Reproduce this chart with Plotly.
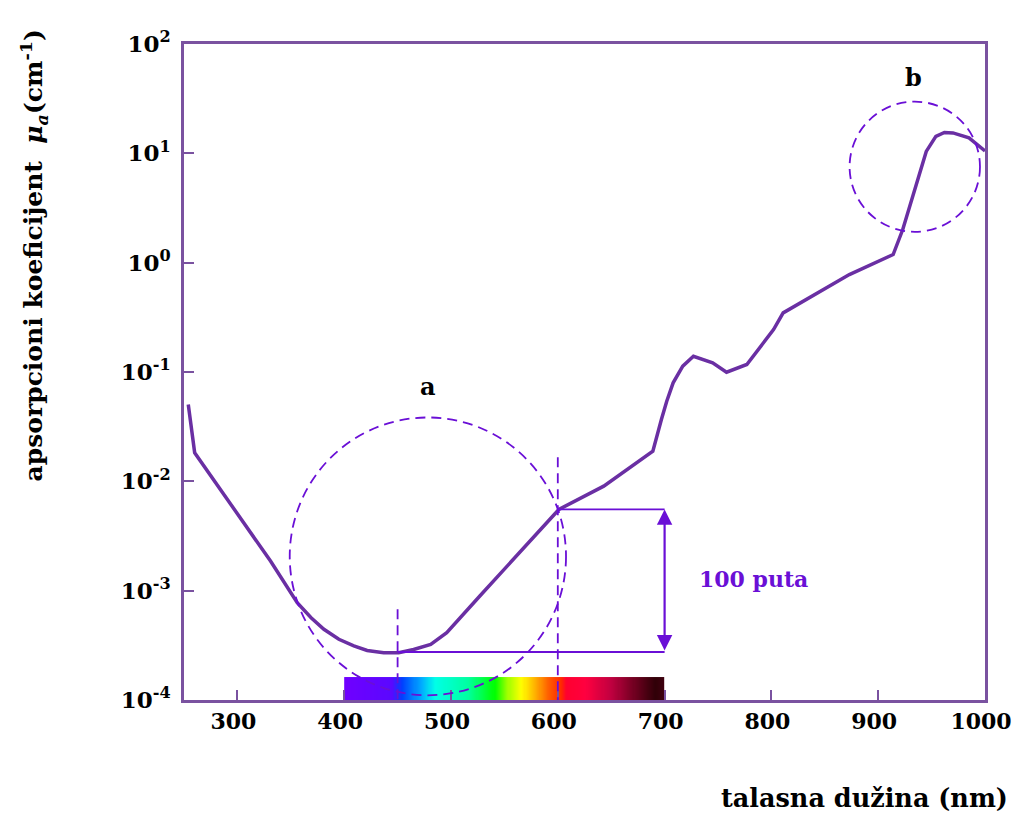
import math
import plotly.graph_objects as go

# ---- data ----
WAVELENGTH_NM = [254, 260, 331, 356, 369, 381, 395, 409, 421.5, 437, 451, 465, 481, 496,
                 527, 583.5, 601, 643, 689, 697, 702, 708, 717, 727, 745, 758, 777,
                 802, 811, 873, 914, 923, 945, 954, 962, 970, 985, 1000]
MU_A = [0.0505, 0.01824, 0.001866, 0.000776, 0.000566, 0.000443, 0.000359, 0.000312,
        0.000284, 0.000271, 0.000271, 0.000290, 0.000323, 0.000413,
        0.000893, 0.00363, 0.00553, 0.00904, 0.01888, 0.0368, 0.0541, 0.0796,
        0.113, 0.1393, 0.1213, 0.0995, 0.1172,
        0.2443, 0.3475, 0.778, 1.186, 2.01, 10.42, 14.29, 15.5, 15.38, 13.84, 10.5]

X_TICKS = [300, 400, 500, 600, 700, 800, 900, 1000]
Y_TICKS = [1e-4, 1e-3, 1e-2, 1e-1, 1e0, 1e1, 1e2]
Y_TICKTEXT = ["10<sup>-4</sup>", "10<sup>-3</sup>", "10<sup>-2</sup>", "10<sup>-1</sup>",
              "10<sup>0</sup>", "10<sup>1</sup>", "10<sup>2</sup>"]

# visible spectrum strip
SPECTRUM_NM = [400, 445, 454, 473, 485, 516, 541, 553, 566, 579, 591, 603, 608, 626, 650, 672, 691, 700]
SPECTRUM_COLORS = ["#7000ff", "#5a08ff", "#0040ff", "#00b0ff", "#00ffe8", "#00ffa0", "#00ff00",
                   "#a0ff00", "#ffff00", "#ffb000", "#ff6000", "#ff2a00", "#ff0030", "#ff0040",
                   "#c00040", "#700020", "#300008", "#400010"]
SPECTRUM_TOP = 10 ** -3.79
SPECTRUM_BOTTOM = 1e-4

# annotation geometry (data units)
MIN_NM, MIN_MU = 450, 10 ** -3.561
REF_NM, REF_MU = 600, 10 ** -2.257
BRACKET_NM = 700

AXIS_COLOR = "#7a52a0"
CURVE_COLOR = "#6a2fa3"
ANNOT_COLOR = "#6a0fd6"
FONT = "DejaVu Serif"
DASH = dict(color=ANNOT_COLOR, width=1.8, dash="10px,6px")

fig = go.Figure()

# spectrum strip as heatmap
n = 300
x_edges = [SPECTRUM_NM[0] + (SPECTRUM_NM[-1] - SPECTRUM_NM[0]) * i / n for i in range(n + 1)]
x_cent = [(x_edges[i] + x_edges[i + 1]) / 2 for i in range(n)]
span = SPECTRUM_NM[-1] - SPECTRUM_NM[0]
colorscale = [[(w - SPECTRUM_NM[0]) / span, c] for w, c in zip(SPECTRUM_NM, SPECTRUM_COLORS)]
fig.add_trace(go.Heatmap(
    x=x_edges, y=[SPECTRUM_BOTTOM, SPECTRUM_TOP], z=[x_cent],
    colorscale=colorscale, zmin=SPECTRUM_NM[0], zmax=SPECTRUM_NM[-1],
    showscale=False, hoverinfo="skip"))

# absorption curve
fig.add_trace(go.Scatter(
    x=WAVELENGTH_NM, y=MU_A, mode="lines",
    line=dict(color=CURVE_COLOR, width=3.5), hoverinfo="skip", showlegend=False))

shapes = [
    dict(type="circle", xref="x", yref="y", x0=349, x1=607.7,
         y0=10 ** -3.957, y1=10 ** -1.416, line=DASH),
    dict(type="circle", xref="x", yref="y", x0=873.2, x1=995.3,
         y0=10 ** 0.282, y1=10 ** 1.473, line=DASH),
    dict(type="line", xref="x", yref="y", x0=MIN_NM, x1=MIN_NM,
         y0=10 ** -3.171, y1=1e-4, line=DASH),
    dict(type="line", xref="x", yref="y", x0=REF_NM, x1=REF_NM,
         y0=10 ** -1.779, y1=1e-4, line=DASH),
    dict(type="line", xref="x", yref="y", x0=REF_NM, x1=BRACKET_NM,
         y0=REF_MU, y1=REF_MU, line=dict(color=ANNOT_COLOR, width=1.8)),
    dict(type="line", xref="x", yref="y", x0=MIN_NM, x1=BRACKET_NM,
         y0=MIN_MU, y1=MIN_MU, line=dict(color=ANNOT_COLOR, width=1.8)),
]

annotations = [
    # double arrow (annotation coords on log axis are log10)
    dict(x=BRACKET_NM, y=math.log10(REF_MU), ax=BRACKET_NM, ay=math.log10(MIN_MU),
         xref="x", yref="y", axref="x", ayref="y", text="", showarrow=True,
         arrowhead=2, arrowside="end+start", arrowsize=1.4, arrowwidth=2.2,
         arrowcolor=ANNOT_COLOR, standoff=0, startstandoff=0),
    dict(x=783.5, y=-2.897, xref="x", yref="y", text="100 puta", showarrow=False,
         font=dict(family=FONT, size=22, color=ANNOT_COLOR, weight="bold")),
    dict(x=478, y=-1.136, xref="x", yref="y", text="a", showarrow=False,
         font=dict(family=FONT, size=24, color="black", weight="bold")),
    dict(x=932.7, y=1.69, xref="x", yref="y", text="b", showarrow=False,
         font=dict(family=FONT, size=24, color="black", weight="bold")),
    dict(x=0.85, y=-0.149, xref="paper", yref="paper", text="talasna dužina (nm)",
         showarrow=False, xanchor="center", yanchor="middle",
         font=dict(family=FONT, size=25.5, color="black", weight="bold")),
    dict(x=-0.187, y=0.678, xref="paper", yref="paper",
         text="apsorpcioni koeficijent  <i>μ<sub>a</sub></i>(cm<sup>-1</sup>)",
         textangle=-90, showarrow=False, xanchor="center", yanchor="middle",
         font=dict(family=FONT, size=25, color="black", weight="bold")),
]

# page body has an 8px margin: size/margins compensate so the plot lands where the reference has it
fig.update_layout(
    width=1005, height=823,
    margin=dict(l=176, r=28, t=36, b=131, autoexpand=False),
    plot_bgcolor="white", paper_bgcolor="white",
    showlegend=False,
    shapes=shapes, annotations=annotations,
    xaxis=dict(range=[250, 1000], showgrid=False, zeroline=False, automargin=False,
               showline=True, linecolor=AXIS_COLOR, linewidth=2.5, mirror=True,
               ticks="inside", ticklen=10, tickwidth=2, tickcolor=AXIS_COLOR,
               tickmode="array", tickvals=X_TICKS, ticklabelshift=-4,
               tickfont=dict(family=FONT, size=22, color="black", weight="bold")),
    yaxis=dict(type="log", range=[-4, 2], showgrid=False, zeroline=False, automargin=False,
               showline=True, linecolor=AXIS_COLOR, linewidth=2.5, mirror=True,
               ticks="inside", ticklen=10, tickwidth=2, tickcolor=AXIS_COLOR,
               tickmode="array", tickvals=Y_TICKS, ticktext=Y_TICKTEXT,
               ticklabelstandoff=6,
               tickfont=dict(family=FONT, size=23, color="black", weight="bold")),
)

fig.write_html("out.html")
